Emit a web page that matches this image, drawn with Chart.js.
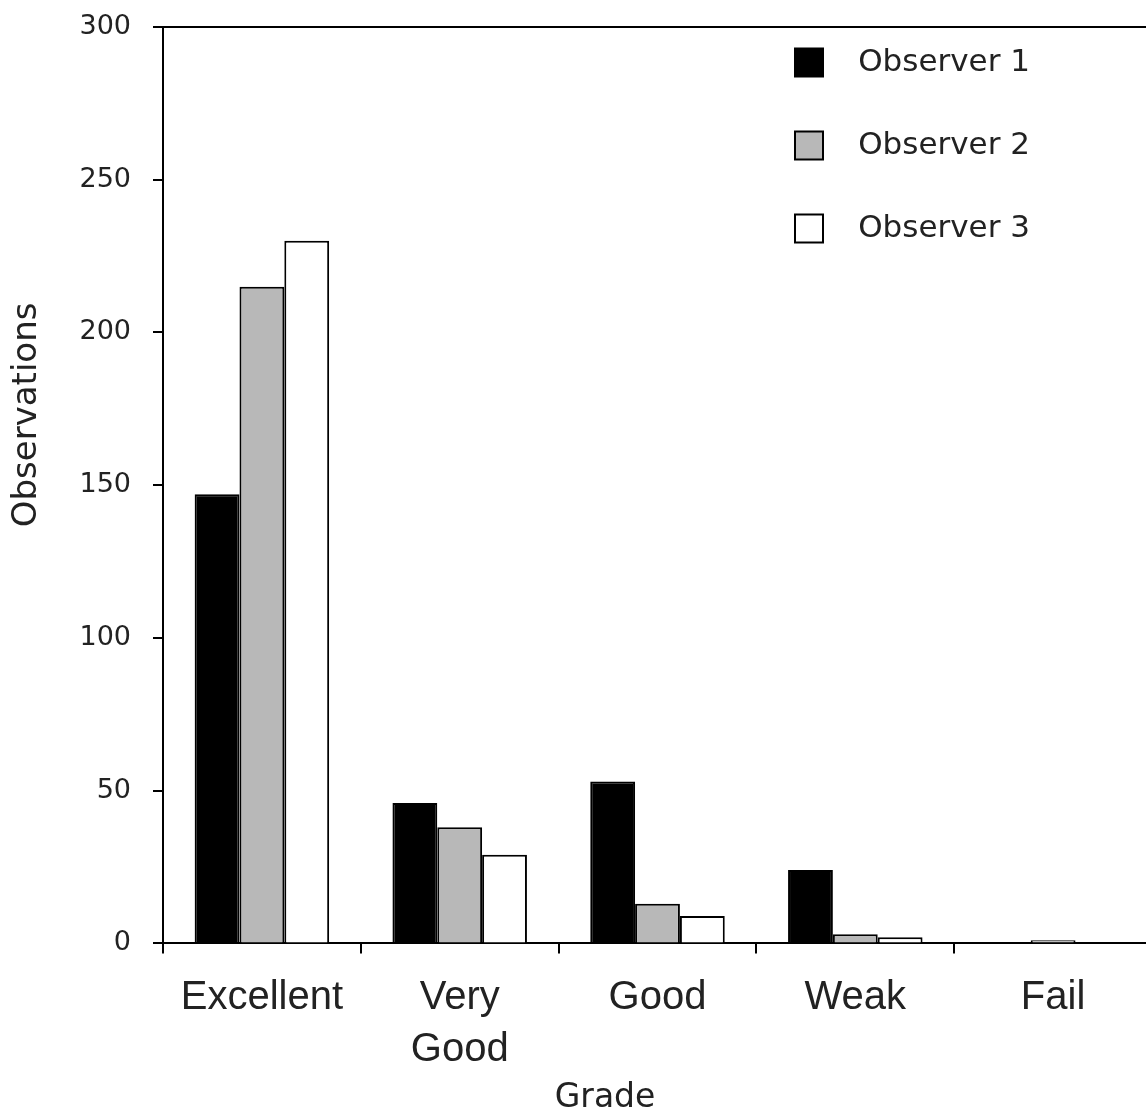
<!DOCTYPE html>
<html>
<head>
<meta charset="utf-8">
<script src="https://cdn.jsdelivr.net/npm/chart.js@4.4.1/dist/chart.umd.min.js"></script>
<style>
  html, body { margin: 0; padding: 0; background: #fff; overflow: hidden; }
  #wrap { width: 1160px; height: 1120px; }
</style>
</head>
<body>
<div id="wrap"><canvas id="gradesChart"></canvas></div>
<script>
const grades = ['Excellent', ['Very', 'Good'], 'Good', 'Weak', 'Fail'];
const observer1 = [147, 46, 53, 24, 0];
const observer2 = [215, 38, 13, 3, 1];
const observer3 = [230, 29, 9, 2, 0];
const yTicks = [0, 50, 100, 150, 200, 250, 300];

// legend sits inside the plot, top right
const legendInPlot = {
    id: 'legendInPlot',
    afterLayout(chart) {
        const lg = chart.legend;
        const area = chart.chartArea;
        lg.left = area.left + 580;
        lg.right = lg.left + lg.width;
        lg.top = area.top - 32;
    }
};

const ctx = document.getElementById('gradesChart').getContext('2d');
new Chart(ctx, {
    type: 'bar',
    data: {
        labels: grades,
        datasets: [{
            label: 'Observer 1',
            data: observer1,
            backgroundColor: '#000000',
            borderColor: '#000000',
            borderWidth: 2
        }, {
            label: 'Observer 2',
            data: observer2,
            backgroundColor: '#b8b8b8',
            borderColor: '#000000',
            borderWidth: 2
        }, {
            label: 'Observer 3',
            data: observer3,
            backgroundColor: '#ffffff',
            borderColor: '#000000',
            borderWidth: 2
        }]
    },
    options: {
        responsive: true,
        maintainAspectRatio: false,
        animation: false,
        categoryPercentage: 0.68,
        barPercentage: 1,
        layout: {
            padding: { top: 27, right: 8, bottom: 2, left: 0 }
        },
        plugins: {
            tooltip: { enabled: false },
            legend: {
                position: 'chartArea',
                align: 'start',
                labels: {
                    boxWidth: 28,
                    boxHeight: 28,
                    padding: 52,
                    color: '#222',
                    font: { family: 'DejaVu Sans', size: 31 },
                    generateLabels: chart =>
                        Chart.defaults.plugins.legend.labels.generateLabels(chart)
                            .map(l => ({ ...l, text: '  ' + l.text }))
                }
            }
        },
        scales: {
            x: {
                grid: {
                    drawOnChartArea: false,
                    color: '#000',
                    lineWidth: 2,
                    tickLength: 10
                },
                border: { color: '#000', width: 2 },
                ticks: {
                    color: '#222',
                    padding: 19,
                    maxRotation: 0,
                    autoSkip: false,
                    font: { family: 'Liberation Sans', size: 40, lineHeight: 1.3 }
                },
                title: {
                    display: true,
                    text: 'Grade          ',
                    color: '#222',
                    padding: { top: -17, bottom: 0 },
                    font: { family: 'DejaVu Sans', size: 33 }
                }
            },
            y: {
                min: 0,
                max: 300,
                afterBuildTicks: scale => {
                    scale.ticks = yTicks.map(v => ({ value: v }));
                },
                afterFit: scale => {
                    scale.width = 163;
                    scale.paddingTop = 0;
                },
                grid: {
                    color: c => (c.tick && c.tick.value === 300) ? '#000' : 'rgba(0,0,0,0)',
                    tickColor: '#000',
                    lineWidth: 2,
                    tickLength: 10
                },
                border: { color: '#000', width: 2 },
                ticks: {
                    color: '#222',
                    padding: 22,
                    font: { family: 'DejaVu Sans', size: 27 }
                },
                title: {
                    display: true,
                    text: '             Observations',
                    color: '#222',
                    padding: { top: 7, bottom: 0 },
                    font: { family: 'DejaVu Sans', size: 34 }
                }
            }
        }
    },
    plugins: [legendInPlot]
});
</script>
</body>
</html>
